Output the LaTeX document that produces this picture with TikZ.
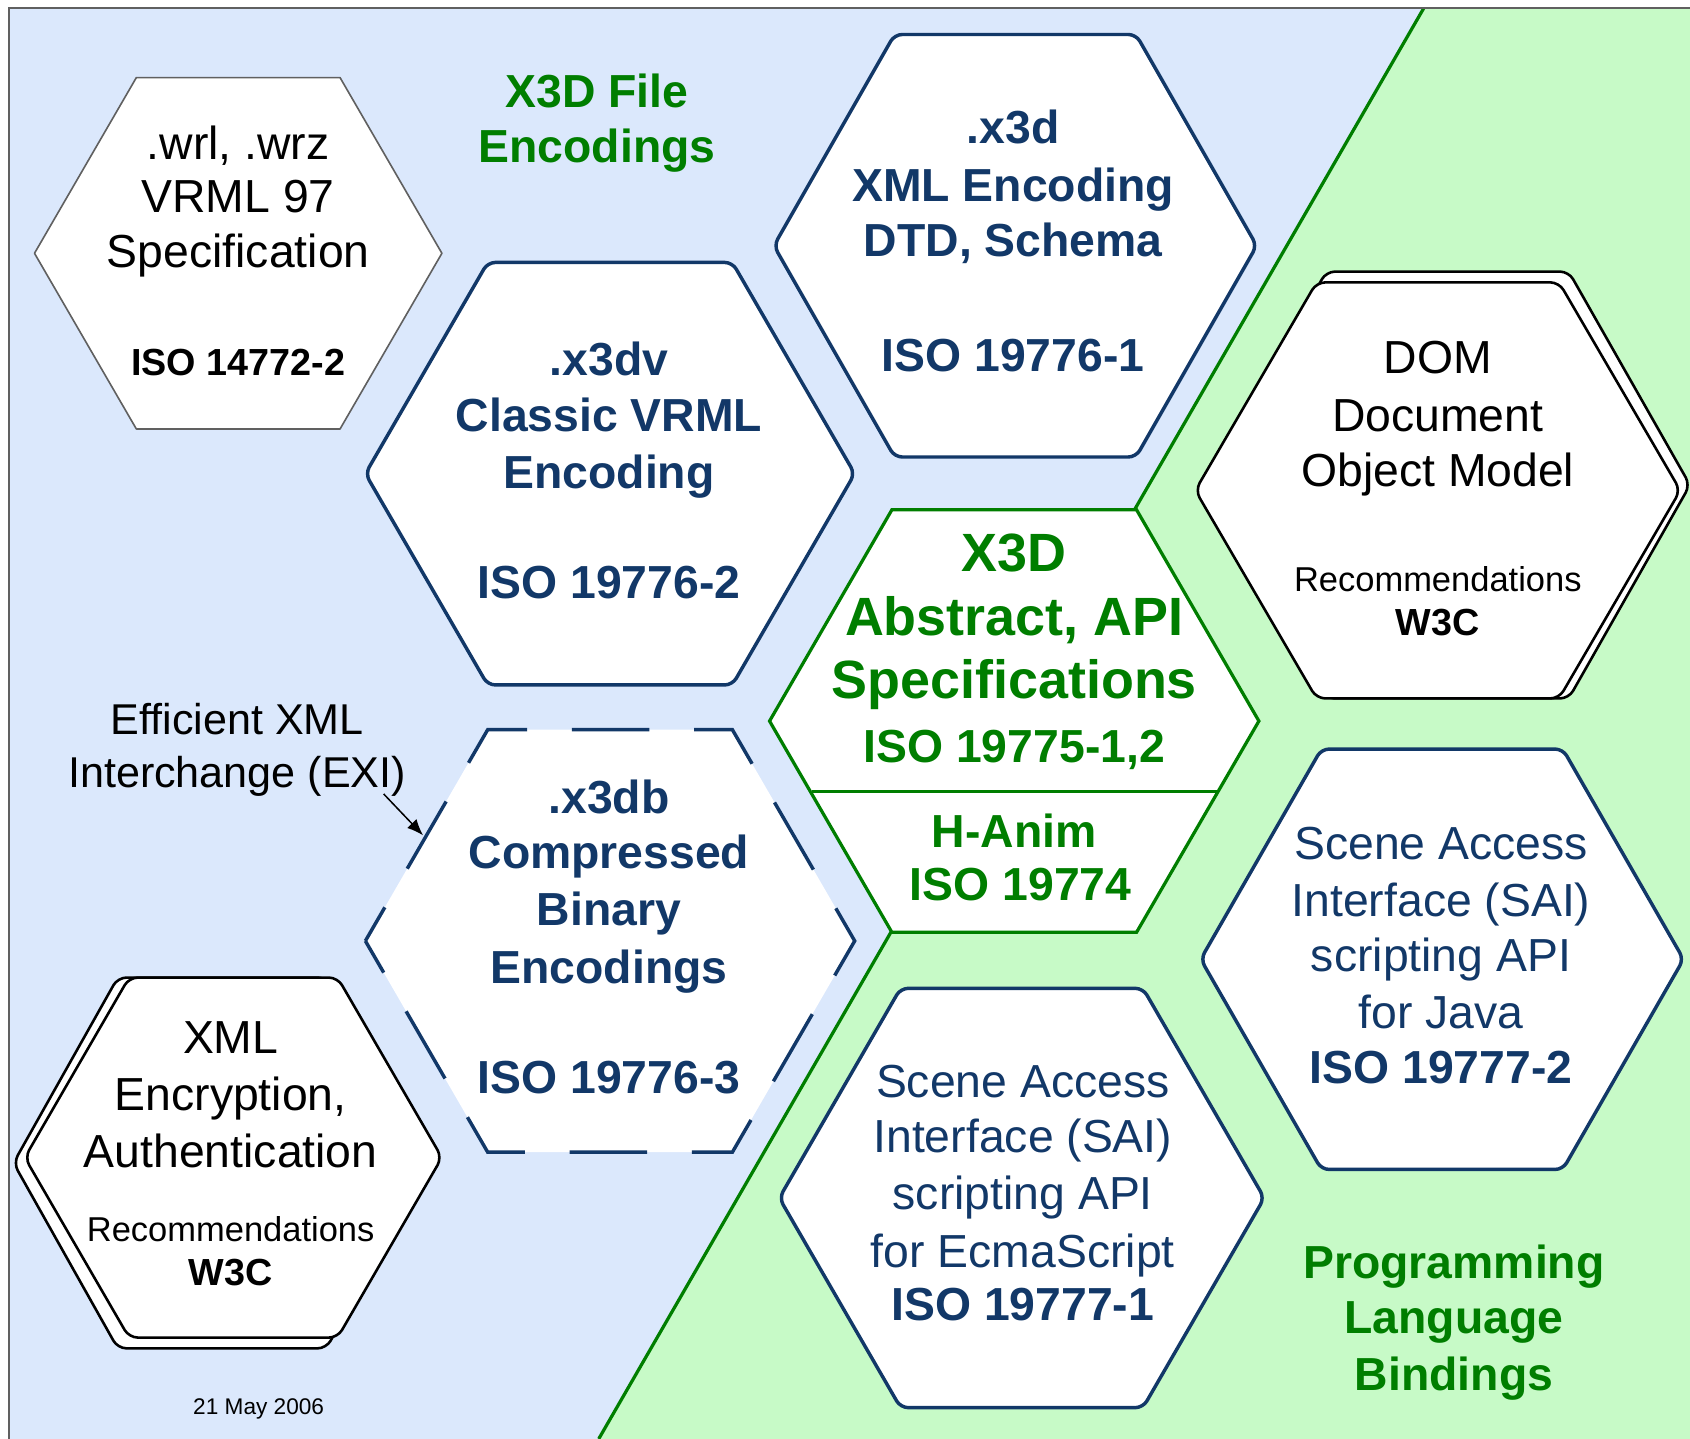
\documentclass[tikz,border=0pt]{standalone}
\usepackage{fontspec}
\setmainfont{Liberation Sans}
\usetikzlibrary{arrows.meta}

\definecolor{bgblue}{RGB}{219,232,252}
\definecolor{bggreen}{RGB}{199,250,199}
\definecolor{navy}{RGB}{18,56,104}
\definecolor{dkgreen}{RGB}{0,126,0}
\definecolor{framegray}{RGB}{96,96,96}

% flat-topped hexagon: centre (#1,#2), half width #3, half height #4
\newcommand\hexagonpath[4]{({#1-#3},{#2}) -- ({#1-#3/2},{#2-#4}) -- ({#1+#3/2},{#2-#4}) -- ({#1+#3},{#2}) -- ({#1+#3/2},{#2+#4}) -- ({#1-#3/2},{#2+#4}) -- cycle}

\tikzset{
  txt/.style={inner sep=0pt, text height=11.8pt, text depth=0pt},
  navyB/.style={txt, yshift=-8.5pt, text=navy, font=\bfseries\fontsize{43}{43}\selectfont},
  navyR/.style={txt, yshift=-8.5pt, text=navy, font=\fontsize{43}{43}\selectfont},
  blackR/.style={txt, yshift=-8.5pt, text=black, font=\fontsize{43}{43}\selectfont},
  blackB/.style={txt, yshift=-6.5pt, text=black, font=\bfseries\fontsize{35}{35}\selectfont},
  greenB/.style={txt, yshift=-8.5pt, text=dkgreen, font=\bfseries\fontsize{43}{43}\selectfont},
  greenL/.style={txt, yshift=-11pt, text=dkgreen, font=\bfseries\fontsize{50}{50}\selectfont},
  recom/.style={txt, yshift=-3.5pt, text=black, font=\fontsize{32}{32}\selectfont},
  note/.style={txt, yshift=-7.5pt, text=black, font=\fontsize{40}{40}\selectfont},
  datetxt/.style={txt, yshift=-2.5pt, text=black, font=\fontsize{21}{21}\selectfont},
  graybox/.style={draw=framegray, line width=1.5pt, fill=white, line join=round},
  navybox/.style={draw=navy, line width=3.2pt, fill=white, rounded corners=7pt, line join=round},
  dashbox/.style={draw=navy, line width=3.2pt, fill=white, dash pattern=on 72pt off 41.5pt, dash phase=36pt},
  greenbox/.style={draw=dkgreen, line width=3pt, fill=white, line join=miter},
  stackbox/.style={draw=black, line width=2.4pt, fill=white, rounded corners=8pt, line join=round},
  boundary/.style={draw=dkgreen, line width=3pt},
  framerule/.style={draw=framegray, line width=1.8pt},
}

\begin{document}
\begin{tikzpicture}[x=1pt, y=-1pt]
\useasboundingbox (0,0) rectangle (1568,1335);

% backgrounds: file encodings (blue) and language bindings (green)
\fill[bgblue] (8.5,7.5) -- (1321,7.5) -- (555.5,1335) -- (8.5,1335) -- cycle;
\fill[bggreen] (1321,7.5) -- (1568,7.5) -- (1568,1335) -- (555.5,1335) -- cycle;
\draw[boundary] (1321,7.5) -- (555.5,1335);
\draw[framerule] (8.5,1336) -- (8.5,7.5) -- (1568,7.5);

% hexagons
\draw[graybox] \hexagonpath{221}{235}{189}{163};
\draw[navybox] \hexagonpath{942}{228}{224}{196};
\draw[navybox] \hexagonpath{566}{439.5}{227}{196};
\draw[dashbox] \hexagonpath{566}{873}{227}{196};
\draw[stackbox] \hexagonpath{1343}{450}{225}{198};
\draw[stackbox] \hexagonpath{1334}{455}{225}{193};
\draw[stackbox] \hexagonpath{206}{1079}{193.5}{172};
\draw[stackbox] \hexagonpath{216.5}{1074}{193.5}{167};
\draw[greenbox] \hexagonpath{941}{669}{227}{196};
\draw[greenbox] (753,734.5) -- (1129,734.5);
\draw[navybox] \hexagonpath{1338}{890}{224}{195};
\draw[navybox] \hexagonpath{948}{1111.5}{225}{194.5};

% section titles
\node[greenB] (encA) at (554,85) {X3D File};
\node[greenB] (encB) at (554,136) {Encodings};
\node[greenB] (plbA) at (1349,1172) {Programming};
\node[greenB] (plbB) at (1349,1223) {Language};
\node[greenB] (plbC) at (1349,1276) {Bindings};

% VRML 97
\node[blackR] (vrmlA) at (221,134) {.wrl, .wrz};
\node[blackR] (vrmlB) at (221,183) {VRML 97};
\node[blackR] (vrmlC) at (221,234) {Specification};
\node[blackB] (vrmlD) at (221,336) {ISO 14772-2};

% XML encoding
\node[navyB] (xmlA) at (940,119) {.x3d};
\node[navyB] (xmlB) at (940,172.5) {XML Encoding};
\node[navyB] (xmlC) at (940,224) {DTD, Schema};
\node[navyB] (xmlD) at (940,330) {ISO 19776-1};

% Classic VRML encoding
\node[navyB] (clsA) at (565,334) {.x3dv};
\node[navyB] (clsB) at (565,385.5) {Classic VRML};
\node[navyB] (clsC) at (565,439) {Encoding};
\node[navyB] (clsD) at (565,541) {ISO 19776-2};

% compressed binary encoding
\node[navyB] (binA) at (565,740) {.x3db};
\node[navyB] (binB) at (565,791) {Compressed};
\node[navyB] (binC) at (565,844.5) {Binary};
\node[navyB] (binD) at (565,898) {Encodings};
\node[navyB] (binE) at (565,1000) {ISO 19776-3};

% EXI note and its pointer
\node[note] (exiA) at (220,668) {Efficient XML};
\node[note] (exiB) at (220,717) {Interchange (EXI)};
\coordinate (exifrom) at ([xshift=-21pt,yshift=-6pt]exiB.south east);
\coordinate (exitip) at (392.5,775);
\draw[line width=1.4pt, -{Latex[length=15pt,width=12pt]}] (exifrom) -- (exitip);

% DOM
\node[blackR] (domA) at (1334,332) {DOM};
\node[blackR] (domB) at (1334,385.5) {Document};
\node[blackR] (domC) at (1334,437) {Object Model};
\node[recom] (domD) at (1334,539) {Recommendations};
\node[blackB] (domE) at (1334,577) {W3C};

% XML security
\node[blackR] (secA) at (214,963) {XML};
\node[blackR] (secB) at (214,1016) {Encryption,};
\node[blackR] (secC) at (214,1068.5) {Authentication};
\node[recom] (secD) at (214,1142.5) {Recommendations};
\node[blackB] (secE) at (214,1180) {W3C};

% abstract specification and H-Anim
\node[greenL] (absA) at (941,513) {X3D};
\node[greenL] (absB) at (941,573) {Abstract, API};
\node[greenL] (absC) at (941,631) {Specifications};
\node[greenB] (absD) at (941,693.5) {ISO 19775-1,2};
\node[greenB] (hanA) at (941,772) {H-Anim};
\node[greenB] (hanB) at (947,821) {ISO 19774};

% SAI Java binding
\node[navyR] (javA) at (1337,783) {Scene Access};
\node[navyR] (javB) at (1337,836) {Interface (SAI)};
\node[navyR] (javC) at (1337,887) {scripting API};
\node[navyR] (javD) at (1337,940) {for Java};
\node[navyB] (javE) at (1337,991) {ISO 19777-2};

% SAI EcmaScript binding
\node[navyR] (ecmA) at (949,1004) {Scene Access};
\node[navyR] (ecmB) at (949,1055) {Interface (SAI)};
\node[navyR] (ecmC) at (949,1108) {scripting API};
\node[navyR] (ecmD) at (949,1161.5) {for EcmaScript};
\node[navyB] (ecmE) at (949,1210.5) {ISO 19777-1};

\node[datetxt] (date) at (240,1304) {21 May 2006};
\end{tikzpicture}
\end{document}
